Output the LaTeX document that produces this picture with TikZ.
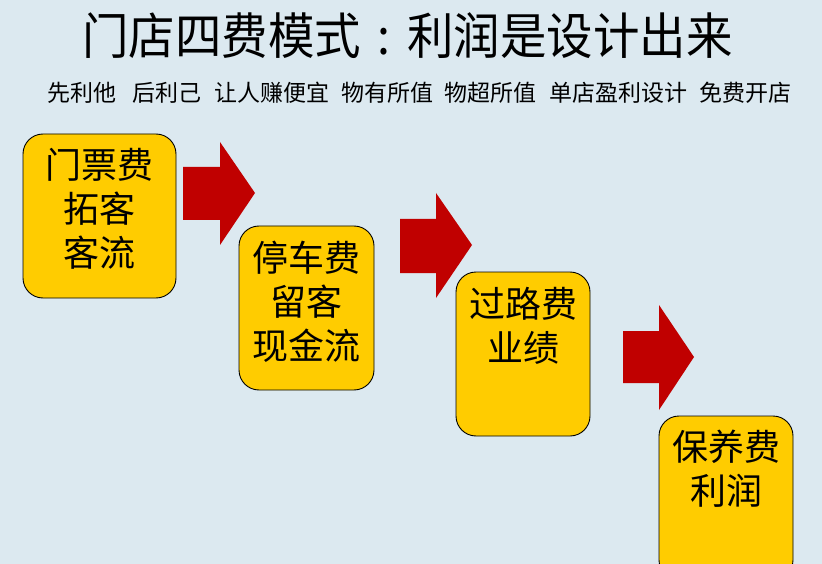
\documentclass[tikz,border=0pt]{standalone}
\usepackage{fontspec}
\setmainfont{Noto Sans CJK SC}
\newfontfamily\cjk{Noto Sans CJK SC}
\definecolor{bgblue}{HTML}{DCE9F0}
\definecolor{boxyellow}{HTML}{FFCC00}
\definecolor{arrowred}{HTML}{C00000}
\begin{document}
\begin{tikzpicture}[x=1pt,y=-1pt,
  stagebox/.style={draw=black,line width=0.9pt,fill=boxyellow,rounded corners=20pt},
  stagetext/.style={inner sep=0pt,align=center,font=\cjk\fontsize{36}{44}\selectfont},
  subtext/.style={inner sep=0pt,anchor=west,font=\cjk\fontsize{23}{26}\selectfont},
  blockarrow/.style={fill=arrowred,draw=none}]
\useasboundingbox (0,0) rectangle (822,564);
\clip (0,0) rectangle (822,564);
\fill[bgblue] (0,0) rectangle (822,564);

% title
\node[inner sep=0pt,font=\cjk\fontsize{46}{50}\selectfont] (title) at (407.5,36) {\scalebox{1.01}[1.08]{门店四费模式\makebox[46pt]{:}利润是设计出来}};

% subtitle
\node[subtext] (s1) at (47,93) {先利他};
\node[subtext] (s2) at (132,93) {后利己};
\node[subtext] (s3) at (214,93) {让人赚便宜};
\node[subtext] (s4) at (341,93) {物有所值};
\node[subtext] (s5) at (444,93) {物超所值};
\node[subtext] (s6) at (549,93) {单店盈利设计};
\node[subtext] (s7) at (699,93) {免费开店};

% boxes
\draw[stagebox] (23,134) rectangle (176,298);
\draw[stagebox] (239,226) rectangle (374,390);
\draw[stagebox] (456,272) rectangle (590,436);
\draw[stagebox] (659,416) rectangle (793,580);

\node[stagetext] (t1) at (99.5,208.5) {门票费\\拓客\\客流};
\node[stagetext] (t2) at (306.5,301.5) {停车费\\留客\\现金流};
\node[stagetext] (t3) at (523,326) {过路费\\业绩};
\node[stagetext] (t4) at (726,468.5) {保养费\\利润};

% block arrows
\fill[blockarrow] (183,167) -- (220,167) -- (220,142) -- (255,193) -- (220,245) -- (220,220) -- (183,220) -- cycle;
\fill[blockarrow] (400,219) -- (436,219) -- (436,193) -- (472,245) -- (436,298) -- (436,273) -- (400,273) -- cycle;
\fill[blockarrow] (623,331) -- (659,331) -- (659,305) -- (694,357) -- (659,410) -- (659,383) -- (623,383) -- cycle;
\end{tikzpicture}
\end{document}
